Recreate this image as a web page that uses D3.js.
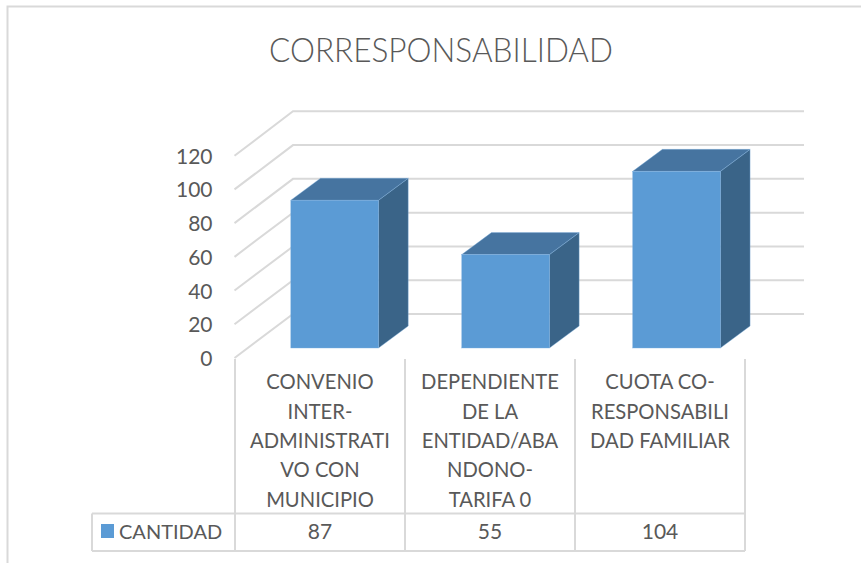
<!DOCTYPE html>
<html>
<head>
<meta charset="utf-8">
<script src="https://cdn.jsdelivr.net/npm/d3@7.9.0/dist/d3.min.js"></script>
<style>
  html, body { margin: 0; padding: 0; background: #fff; }
  svg { display: block; }
  text { font-family: Lato, "Open Sans", sans-serif; fill: #595959; }
</style>
</head>
<body>
<svg width="861" height="563"></svg>
<script>
const chartTitle = 'CORRESPONSABILIDAD';
const seriesName = 'CANTIDAD';
const categories = ['CONVENIO', 'DEPENDIENTE', 'CUOTA'];
const categoryLines = [
  ['CONVENIO', 'INTER-', 'ADMINISTRATI', 'VO CON', 'MUNICIPIO'],
  ['DEPENDIENTE', 'DE LA', 'ENTIDAD/ABA', 'NDONO-', 'TARIFA 0'],
  ['CUOTA CO-', 'RESPONSABILI', 'DAD FAMILIAR']
];
const values = [87, 55, 104];
const yTicks = [0, 20, 40, 60, 80, 100, 120];

const gridColor = '#d9d9d9';
const svg = d3.select('svg');

// chart frame, only top and left show in the picture
svg.append('path')
  .attr('d', 'M7.5,563V6.5H861')
  .attr('fill', 'none')
  .attr('stroke', gridColor)
  .attr('stroke-width', 2);

svg.append('text')
  .attr('x', 441)
  .attr('y', 62)
  .attr('text-anchor', 'middle')
  .attr('font-size', 33)
  .attr('font-weight', 300)
  .attr('textLength', 344)
  .attr('lengthAdjust', 'spacingAndGlyphs')
  .text(chartTitle);

// three y scales: front edge of the floor, back wall, and the plane the bars stand on
const yFront = d3.scaleLinear().domain([0, 120]).range([358, 155.7]);
const yBack = d3.scaleLinear().domain([0, 120]).range([314, 111.3]);
const yBar = d3.scaleLinear().domain([0, 120]).range([348, 144.2]);

const xFront = 234.5, xBack = 293, xEnd = 804;

svg.append('g').selectAll('path')
  .data(yTicks)
  .join('path')
  .attr('d', d => `M${xFront},${yFront(d)}L${xBack},${yBack(d)}H${xEnd}`)
  .attr('fill', 'none')
  .attr('stroke', gridColor)
  .attr('stroke-width', 2);

const yAxis = d3.axisLeft(yFront).tickValues(yTicks).tickSize(0).tickPadding(0);
const yAxisG = svg.append('g')
  .attr('transform', 'translate(212.5,0)')
  .call(yAxis);
yAxisG.select('.domain').remove();
yAxisG.selectAll('text')
  .attr('font-size', 21)
  .attr('dy', '0.36em')
  .style('font-family', 'Lato')
  .style('fill', '#595959');

// bars
const xBar = d3.scaleBand()
  .domain(categories)
  .range([249.2, 762])
  .paddingInner(0.487)
  .paddingOuter(0.2435);
const depthX = 29.7, depthY = 22;

const bars = svg.append('g').selectAll('g')
  .data(categories)
  .join('g');

const edge = '#7fb0de';

bars.append('path')
  .attr('d', (d, i) => {
    const x1 = xBar(d) + xBar.bandwidth(), top = yBar(values[i]), base = yBar(0);
    return `M${x1},${top}l${depthX},${-depthY}V${base - depthY}L${x1},${base}Z`;
  })
  .attr('fill', '#3a6488')
  .attr('stroke', edge)
  .attr('stroke-width', 0.4);

bars.append('path')
  .attr('d', (d, i) => {
    const x0 = xBar(d), w = xBar.bandwidth(), top = yBar(values[i]);
    return `M${x0},${top}l${depthX},${-depthY}h${w}l${-depthX},${depthY}Z`;
  })
  .attr('fill', '#4674a0')
  .attr('stroke', edge)
  .attr('stroke-width', 0.4);

bars.append('rect')
  .attr('x', d => xBar(d))
  .attr('y', (d, i) => yBar(values[i]))
  .attr('width', xBar.bandwidth())
  .attr('height', (d, i) => yBar(0) - yBar(values[i]))
  .attr('fill', '#5b9bd5')
  .attr('stroke', edge)
  .attr('stroke-width', 0.4);

// data table under the plot
const xTable = d3.scaleBand().domain(categories).range([235, 745]);
const tableTop = 359, tableRow = 513.5, tableBottom = 551, tableLeft = 92;

const table = svg.append('g')
  .attr('fill', 'none')
  .attr('stroke', gridColor)
  .attr('stroke-width', 2);
table.append('path').attr('d', `M${tableLeft},${tableRow}H745M${tableLeft},${tableBottom}H745M${tableLeft},${tableRow}V${tableBottom}`);
table.selectAll('line')
  .data(categories.map(d => xTable(d)).concat(745))
  .join('line')
  .attr('x1', d => d).attr('x2', d => d)
  .attr('y1', tableTop).attr('y2', tableBottom);

const lineStep = 29.3;
const cells = svg.append('g').selectAll('text.cat')
  .data(categories)
  .join('text')
  .attr('class', 'cat')
  .attr('text-anchor', 'middle')
  .attr('font-size', 20.2);
cells.selectAll('tspan')
  .data((d, i) => categoryLines[i].map(t => ({ t, key: d })))
  .join('tspan')
  .attr('x', d => xTable(d.key) + xTable.bandwidth() / 2)
  .attr('y', (d, i) => 389.3 + i * lineStep)
  .text(d => d.t);

svg.append('g').selectAll('text.val')
  .data(categories)
  .join('text')
  .attr('class', 'val')
  .attr('x', d => xTable(d) + xTable.bandwidth() / 2)
  .attr('y', 539)
  .attr('text-anchor', 'middle')
  .attr('font-size', 21)
  .text((d, i) => values[i]);

svg.append('rect')
  .attr('x', 101).attr('y', 524)
  .attr('width', 13).attr('height', 14)
  .attr('fill', '#5b9bd5');

svg.append('text')
  .attr('x', 119)
  .attr('y', 539)
  .attr('font-size', 20)
  .text(seriesName);
</script>
</body>
</html>
